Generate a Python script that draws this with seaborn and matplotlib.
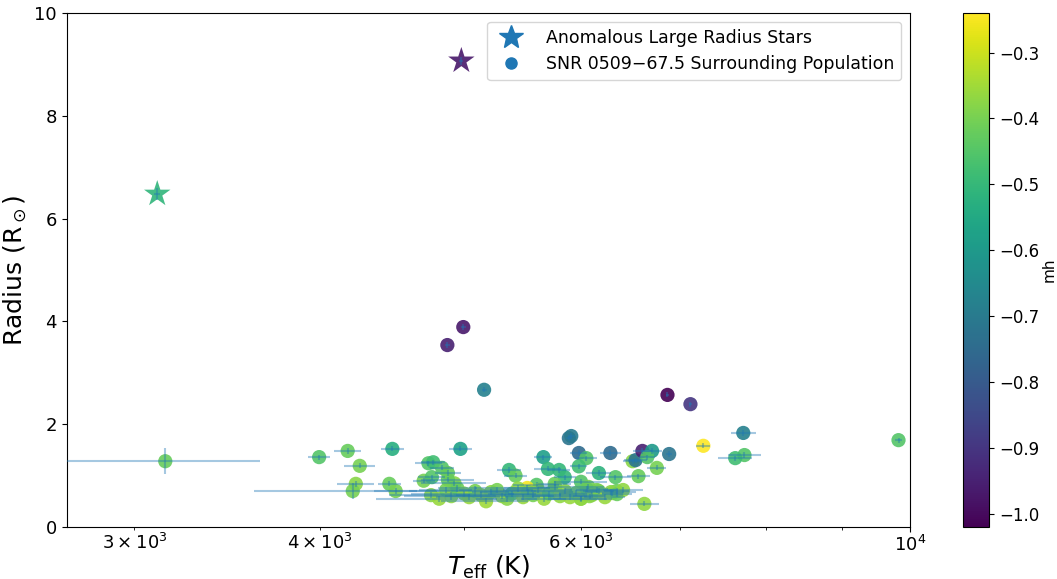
import matplotlib
matplotlib.use("Agg")
import matplotlib.pyplot as plt
import seaborn as sns
import numpy as np
import pandas as pd
from matplotlib.lines import Line2D
from matplotlib.colors import Normalize
from matplotlib.cm import ScalarMappable

# Anomalous large radius stars
star_teff = [3108, 4983]
star_rad = [6.48, 9.07]
star_mh = [-0.51, -0.97]
star_teff_err = [15, 15]
star_rad_err = [0.12, 0.08]

# Surrounding population
pop_teff = [3147, 3996, 4177, 4256, 4230, 4210, 4477, 4456, 4500, 4735,
            4770, 4836, 4700, 4760, 4880, 4976, 4876, 4998, 5162, 5366,
            5420, 5660, 5700, 5800, 5850, 5888, 5910, 5980, 6050, 5980,
            6169, 6280, 6330, 6500, 6530, 6600, 6700, 6650, 6880, 6750,
            6560, 6340, 6300, 6620, 6862, 7111, 7255, 7719, 7733, 7623,
            9822, 5600, 5760, 6000, 6070, 6150, 6000, 6080, 5520, 4930,
            4880,
            4754, 4814, 4867, 4906, 4953, 5005, 5044, 5091, 5138, 5178,
            5219, 5267, 5308, 5350, 5391, 5441, 5484, 5527, 5570, 5613,
            5666, 5710, 5763, 5808, 5853, 5898, 5953, 5999, 6055, 6102,
            6169, 6227, 6286, 6345, 6405]
pop_rad = [1.28, 1.36, 1.48, 1.19, 0.84, 0.70, 1.52, 0.84, 0.70, 1.24,
           1.26, 1.15, 0.90, 0.97, 1.05, 1.52, 3.54, 3.89, 2.67, 1.11,
           1.00, 1.36, 1.13, 1.11, 0.97, 1.73, 1.77, 1.44, 1.34, 1.18,
           1.05, 1.44, 0.97, 1.28, 1.30, 1.48, 1.48, 1.36, 1.42, 1.15,
           0.99, 0.70, 0.66, 0.45, 2.57, 2.39, 1.58, 1.83, 1.40, 1.34,
           1.69, 0.82, 0.84, 0.88, 0.78, 0.72, 0.55, 0.60, 0.76, 0.85,
           0.92,
           0.62, 0.55, 0.72, 0.60, 0.75, 0.65, 0.58, 0.70, 0.62, 0.50,
           0.68, 0.72, 0.60, 0.55, 0.65, 0.75, 0.58, 0.68, 0.62, 0.72,
           0.55, 0.65, 0.78, 0.60, 0.70, 0.58, 0.66, 0.55, 0.74, 0.62,
           0.70, 0.58, 0.68, 0.64, 0.72]
pop_mh = [-0.42, -0.45, -0.42, -0.40, -0.38, -0.40, -0.53, -0.42, -0.40, -0.45,
          -0.48, -0.45, -0.40, -0.45, -0.42, -0.57, -0.95, -0.97, -0.68, -0.50,
          -0.42, -0.58, -0.50, -0.50, -0.50, -0.72, -0.70, -0.75, -0.45, -0.48,
          -0.52, -0.75, -0.45, -0.38, -0.72, -0.95, -0.60, -0.45, -0.72, -0.40,
          -0.42, -0.42, -0.35, -0.37, -1.02, -0.90, -0.24, -0.68, -0.45, -0.48,
          -0.45, -0.45, -0.42, -0.45, -0.40, -0.40, -0.38, -0.38, -0.25, -0.38,
          -0.42,
          -0.38, -0.36, -0.40, -0.37, -0.42, -0.38, -0.36, -0.40, -0.37, -0.35,
          -0.38, -0.40, -0.36, -0.38, -0.42, -0.37, -0.36, -0.39, -0.40, -0.38,
          -0.36, -0.42, -0.40, -0.37, -0.38, -0.36, -0.40, -0.37, -0.42, -0.38,
          -0.40, -0.36, -0.38, -0.42, -0.37]
pop_teff_err = [500, 70, 90, 100, 120, 600, 80, 80, 150, 100,
                90, 90, 80, 100, 100, 90, 20, 20, 20, 100,
                100, 80, 120, 100, 100, 30, 30, 80, 100, 80,
                120, 100, 150, 100, 120, 100, 100, 80, 30, 100,
                120, 120, 100, 150, 20, 20, 80, 150, 200, 200,
                60, 200, 150, 250, 150, 200, 300, 150, 200, 250,
                200,
                300, 450, 200, 350, 150, 400, 250, 500, 200, 350,
                150, 300, 450, 250, 200, 350, 150, 400, 250, 300,
                200, 350, 150, 250, 300, 200, 150, 250, 200, 300,
                150, 200, 250, 150, 200]
pop_rad_err = [0.25, 0.05, 0.05, 0.05, 0.06, 0.15, 0.05, 0.05, 0.05, 0.05,
               0.05, 0.05, 0.05, 0.05, 0.05, 0.05, 0.05, 0.05, 0.05, 0.05,
               0.05, 0.05, 0.05, 0.05, 0.05, 0.05, 0.05, 0.05, 0.05, 0.05,
               0.05, 0.05, 0.05, 0.05, 0.05, 0.05, 0.05, 0.05, 0.05, 0.05,
               0.05, 0.05, 0.05, 0.05, 0.05, 0.05, 0.05, 0.05, 0.05, 0.05,
               0.05, 0.05, 0.05, 0.05, 0.05, 0.05, 0.05, 0.05, 0.05, 0.05,
               0.05,
               0.06, 0.06, 0.06, 0.08, 0.06, 0.06, 0.06, 0.10, 0.06, 0.06,
               0.06, 0.06, 0.06, 0.06, 0.06, 0.06, 0.06, 0.06, 0.06, 0.06,
               0.06, 0.06, 0.06, 0.06, 0.06, 0.06, 0.06, 0.06, 0.06, 0.06,
               0.06, 0.06, 0.06, 0.06, 0.06]

stars = pd.DataFrame({"teff": star_teff, "rad": star_rad, "mh": star_mh})
pop = pd.DataFrame({"teff": pop_teff, "rad": pop_rad, "mh": pop_mh})

vmin = min(min(pop_mh), min(star_mh))
vmax = max(max(pop_mh), max(star_mh))
norm = Normalize(vmin=vmin, vmax=vmax)

fig = plt.figure(figsize=(10.57, 5.79), dpi=100)
ax = fig.add_axes([0.063, 0.0898, 0.798, 0.8877])
cax = fig.add_axes([0.911, 0.0898, 0.025, 0.8877])

sns.scatterplot(data=pop, x="teff", y="rad", hue="mh", palette="viridis",
                hue_norm=norm, s=105, alpha=0.9, edgecolor="none",
                legend=False, ax=ax, zorder=2)
sns.scatterplot(data=stars, x="teff", y="rad", hue="mh", palette="viridis",
                hue_norm=norm, s=400, marker="*", alpha=0.9, edgecolor="none",
                legend=False, ax=ax, zorder=2)

ax.errorbar(pop_teff, pop_rad, xerr=pop_teff_err, yerr=pop_rad_err,
            fmt="none", ecolor="#1f77b4", alpha=0.4, elinewidth=1.5,
            capsize=0, zorder=3)
ax.errorbar(star_teff, star_rad, xerr=star_teff_err, yerr=star_rad_err,
            fmt="none", ecolor="#1f77b4", alpha=0.4, elinewidth=1.5,
            capsize=0, zorder=3)

ax.set_xscale("log")
ax.set_xlim(2700, 10000)
ax.set_ylim(0, 10)
ax.set_xlabel(r"$T_{\rm eff}$ (K)", fontsize=18, labelpad=-1)
ax.set_ylabel(r"Radius (R$_\odot$)", fontsize=18)
ax.tick_params(axis="both", which="both", labelsize=13)
ax.tick_params(axis="x", which="both", pad=2)

handles = [
    Line2D([0], [0], marker="*", color="#1f77b4", linestyle="none", markersize=18),
    Line2D([0], [0], marker="o", color="#1f77b4", linestyle="none", markersize=8),
]
ax.legend(handles, ["Anomalous Large Radius Stars",
                    "SNR 0509\u221267.5 Surrounding Population"],
          loc="upper right", fontsize=12.5, framealpha=0.8, handletextpad=1.0)

sm = ScalarMappable(norm=norm, cmap="viridis")
cb = fig.colorbar(sm, cax=cax)
cb.set_label("mh", fontsize=11, labelpad=2)
cb.ax.tick_params(labelsize=12)

fig.savefig("out.png", dpi=100)
